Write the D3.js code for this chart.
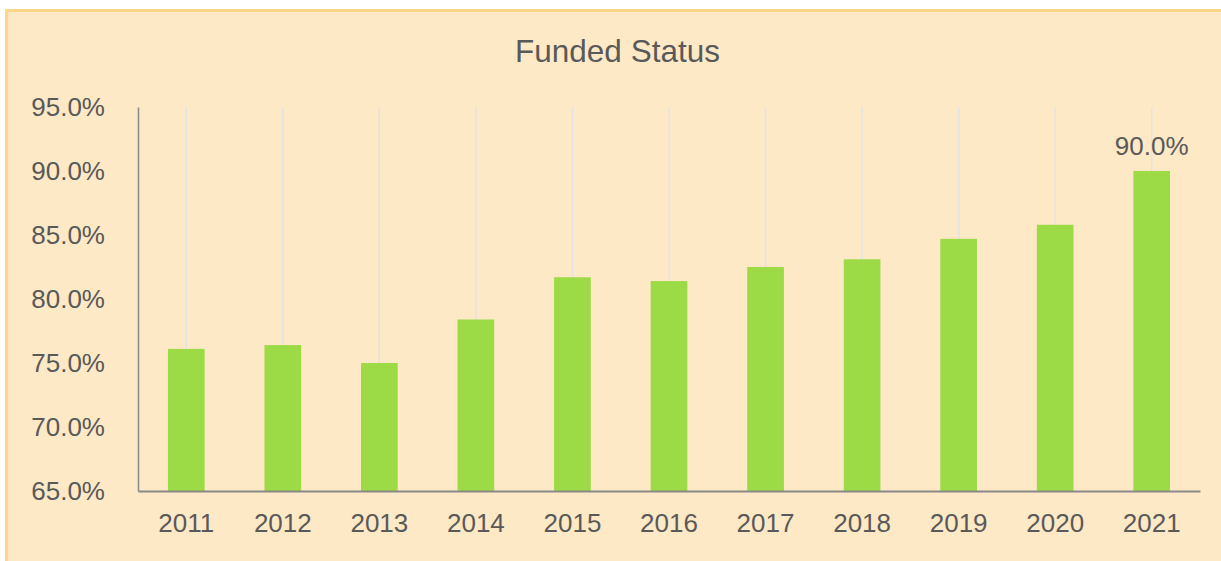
<!DOCTYPE html>
<html>
<head>
<meta charset="utf-8">
<script src="https://cdn.jsdelivr.net/npm/d3@7"></script>
<style>
    body { margin: 0; background: #fff; }
    svg { display: block; font-family: "Liberation Sans", Arial, sans-serif; }
</style>
</head>
<body>
<div id="chart"></div>
<script>
// funded status by year (percent)
let years = ["2011", "2012", "2013", "2014", "2015", "2016", "2017", "2018", "2019", "2020", "2021"];
let fundedPct = [76.1, 76.4, 75.0, 78.4, 81.7, 81.4, 82.5, 83.1, 84.7, 85.8, 90.0];
let yTicks = [65, 70, 75, 80, 85, 90, 95];
let labelledYears = ["2021"];

let width = 1221, height = 561;
let margin = { top: 107, right: 21, bottom: 70, left: 138 };

let svg = d3.select("#chart").append("svg")
    .attr("width", width)
    .attr("height", height);

// card background with top/left border
svg.append("rect")
    .attr("x", 6.5)
    .attr("y", 10.5)
    .attr("width", 1300)
    .attr("height", 700)
    .attr("fill", "#FEE9C6")
    .attr("stroke", "#FFD58A")
    .attr("stroke-width", 3);

svg.append("text")
    .attr("x", 617.5)
    .attr("y", 62)
    .attr("text-anchor", "middle")
    .attr("font-size", 31.5)
    .attr("fill", "#595959")
    .text("Funded Status");

let x = d3.scaleBand()
    .domain(years)
    .range([margin.left, width - margin.right])
    .paddingInner(0.62)
    .paddingOuter(0.31);

let y = d3.scaleLinear()
    .domain([65, 95])
    .range([height - margin.bottom, margin.top]);

// vertical gridlines at category centres
svg.append("g")
    .selectAll("line")
    .data(years)
    .join("line")
    .attr("x1", d => x(d) + x.bandwidth() / 2)
    .attr("x2", d => x(d) + x.bandwidth() / 2)
    .attr("y1", y(95))
    .attr("y2", y(65))
    .attr("stroke", "#E3E3E3")
    .attr("stroke-width", 1.5);

svg.append("g")
    .selectAll("rect")
    .data(years)
    .join("rect")
    .attr("x", d => x(d))
    .attr("width", x.bandwidth())
    .attr("y", (d, i) => y(fundedPct[i]))
    .attr("height", (d, i) => y(65) - y(fundedPct[i]))
    .attr("fill", "#9CDA46");

// y axis
let yAxis = d3.axisLeft(y)
    .tickValues(yTicks)
    .tickSize(0)
    .tickPadding(33)
    .tickFormat(d => d3.format(".1f")(d) + "%");

let yG = svg.append("g")
    .attr("transform", "translate(" + margin.left + ",0)")
    .call(yAxis);
yG.select(".domain").attr("stroke", "#898989").attr("stroke-width", 1.5);
yG.selectAll("text")
    .attr("font-size", 26)
    .attr("fill", "#595959")
    .attr("font-family", "Liberation Sans, Arial, sans-serif");

// x axis
let xAxis = d3.axisBottom(x)
    .tickSize(0)
    .tickPadding(23);

let xG = svg.append("g")
    .attr("transform", "translate(0," + y(65) + ")")
    .call(xAxis);
xG.select(".domain").attr("stroke", "#898989").attr("stroke-width", 2);
xG.selectAll("text")
    .attr("font-size", 26)
    .attr("fill", "#595959")
    .attr("font-family", "Liberation Sans, Arial, sans-serif");

// data label on last bar
svg.append("g")
    .selectAll("text")
    .data(years.filter(d => labelledYears.includes(d)))
    .join("text")
    .attr("x", d => x(d) + x.bandwidth() / 2)
    .attr("y", d => y(fundedPct[years.indexOf(d)]) - 16)
    .attr("text-anchor", "middle")
    .attr("font-size", 26)
    .attr("fill", "#595959")
    .text(d => d3.format(".1f")(fundedPct[years.indexOf(d)]) + "%");
</script>
</body>
</html>
